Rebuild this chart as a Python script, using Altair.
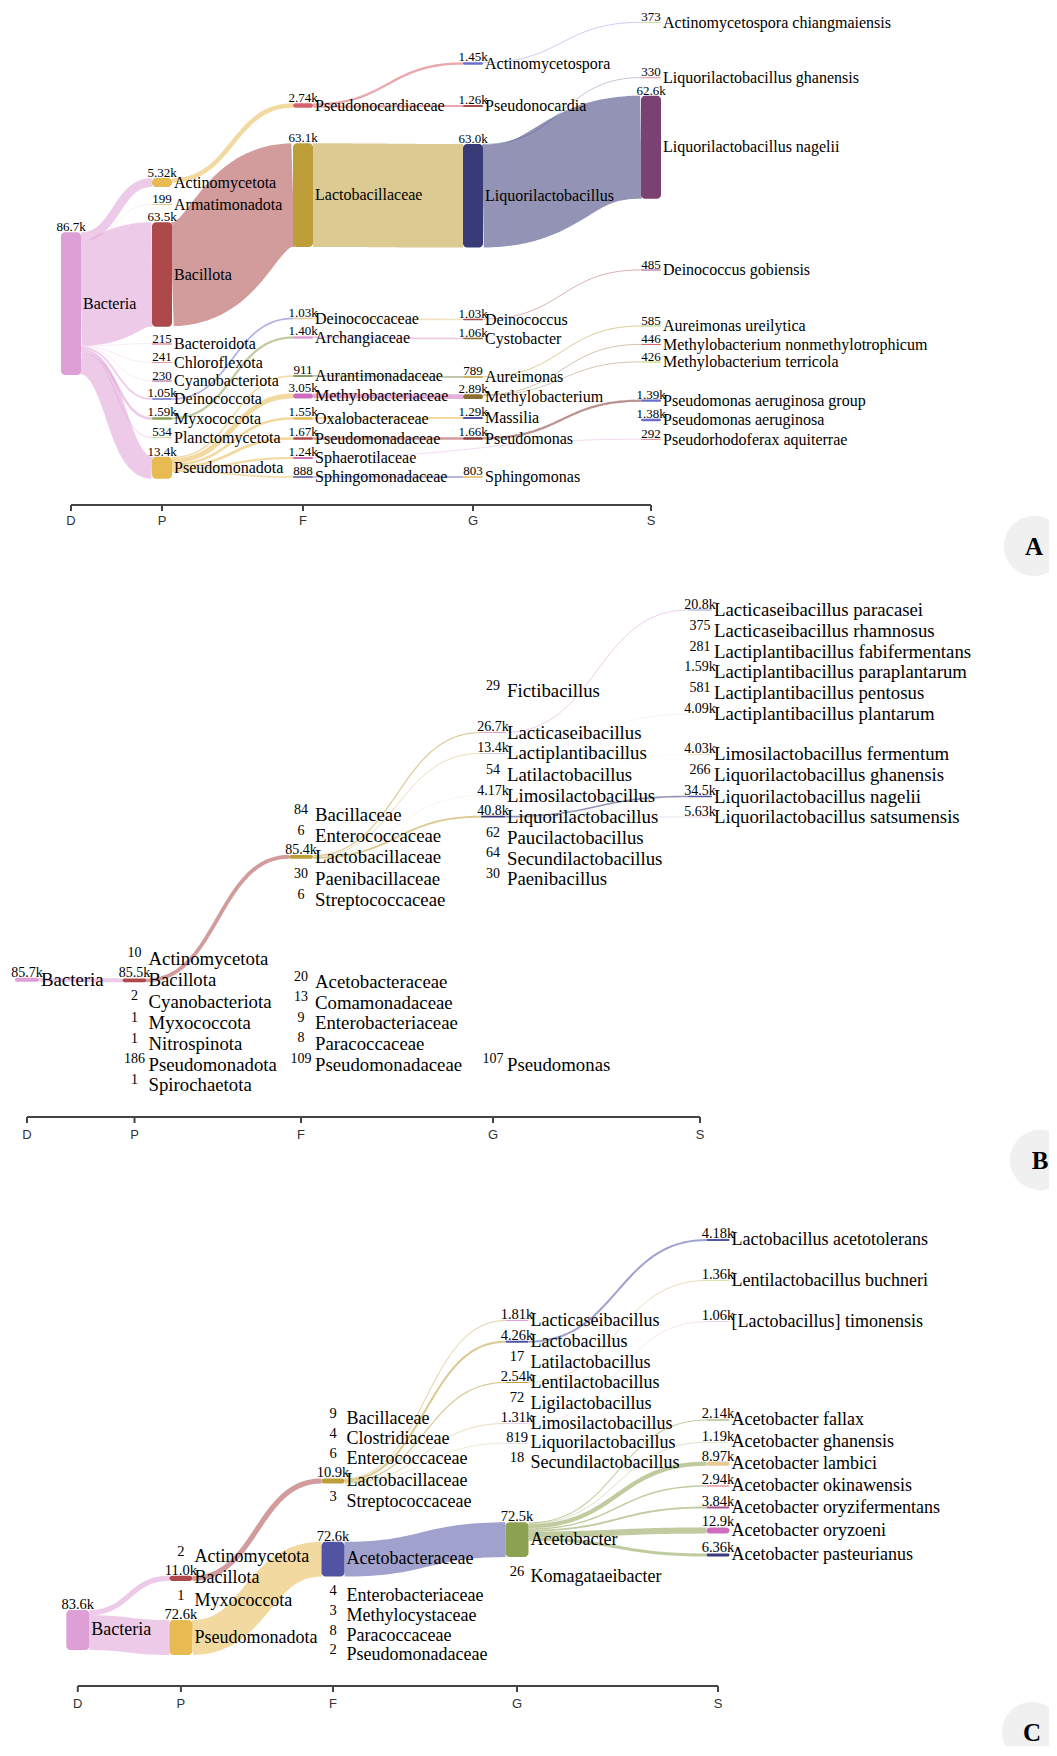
import altair as alt
import pandas as pd

W, H = 1041, 1738
LEVELS = ["D", "P", "F", "G", "S"]

# ------------------------------------------------------------------ data
# nodes: (name, level index, reads, colour)
A_nodes = [
    ("Bacteria", 0, 86700, "#de9ed6"),
    ("Actinomycetota", 1, 5320, "#e7ba52"),
    ("Armatimonadota", 1, 199, "#e7cb94"),
    ("Bacillota", 1, 63500, "#ad494a"),
    ("Bacteroidota", 1, 215, "#d6616b"),
    ("Chloroflexota", 1, 241, "#e7969c"),
    ("Cyanobacteriota", 1, 230, "#a55194"),
    ("Deinococcota", 1, 1050, "#6b6ecf"),
    ("Myxococcota", 1, 1590, "#8ca252"),
    ("Planctomycetota", 1, 534, "#cedb9c"),
    ("Pseudomonadota", 1, 13400, "#e7ba52"),
    ("Pseudonocardiaceae", 2, 2740, "#d6616b"),
    ("Lactobacillaceae", 2, 63100, "#bd9e39"),
    ("Deinococcaceae", 2, 1030, "#e7cb94"),
    ("Archangiaceae", 2, 1400, "#de9ed6"),
    ("Aurantimonadaceae", 2, 911, "#637939"),
    ("Methylobacteriaceae", 2, 3050, "#ce6dbd"),
    ("Oxalobacteraceae", 2, 1550, "#e7ba52"),
    ("Pseudomonadaceae", 2, 1670, "#ad494a"),
    ("Sphaerotilaceae", 2, 1240, "#ce6dbd"),
    ("Sphingomonadaceae", 2, 888, "#5254a3"),
    ("Actinomycetospora", 3, 1450, "#6b6ecf"),
    ("Pseudonocardia", 3, 1260, "#ad494a"),
    ("Liquorilactobacillus", 3, 63000, "#393b79"),
    ("Deinococcus", 3, 1030, "#ad494a"),
    ("Cystobacter", 3, 1060, "#8c6d31"),
    ("Aureimonas", 3, 789, "#bd9e39"),
    ("Methylobacterium", 3, 2890, "#8c6d31"),
    ("Massilia", 3, 1290, "#5254a3"),
    ("Pseudomonas", 3, 1660, "#843c39"),
    ("Sphingomonas", 3, 803, "#e7ba52"),
    ("Actinomycetospora chiangmaiensis", 4, 373, "#cedb9c"),
    ("Liquorilactobacillus ghanensis", 4, 330, "#e7969c"),
    ("Liquorilactobacillus nagelii", 4, 62600, "#7b4173"),
    ("Deinococcus gobiensis", 4, 485, "#a55194"),
    ("Aureimonas ureilytica", 4, 585, "#b5cf6b"),
    ("Methylobacterium nonmethylotrophicum", 4, 446, "#d6616b"),
    ("Methylobacterium terricola", 4, 426, "#b5cf6b"),
    ("Pseudomonas aeruginosa group", 4, 1390, "#6b6ecf"),
    ("Pseudomonas aeruginosa", 4, 1380, "#6b6ecf"),
    ("Pseudorhodoferax aquiterrae", 4, 292, "#e7969c"),
]
A_links = [
    ("Bacteria", "Actinomycetota", 5320), ("Bacteria", "Armatimonadota", 199),
    ("Bacteria", "Bacillota", 63500), ("Bacteria", "Bacteroidota", 215),
    ("Bacteria", "Chloroflexota", 241), ("Bacteria", "Cyanobacteriota", 230),
    ("Bacteria", "Deinococcota", 1050), ("Bacteria", "Myxococcota", 1590),
    ("Bacteria", "Planctomycetota", 534), ("Bacteria", "Pseudomonadota", 13400),
    ("Actinomycetota", "Pseudonocardiaceae", 2740),
    ("Bacillota", "Lactobacillaceae", 63100),
    ("Deinococcota", "Deinococcaceae", 1030),
    ("Myxococcota", "Archangiaceae", 1400),
    ("Pseudomonadota", "Aurantimonadaceae", 911),
    ("Pseudomonadota", "Methylobacteriaceae", 3050),
    ("Pseudomonadota", "Oxalobacteraceae", 1550),
    ("Pseudomonadota", "Pseudomonadaceae", 1670),
    ("Pseudomonadota", "Sphaerotilaceae", 1240),
    ("Pseudomonadota", "Sphingomonadaceae", 888),
    ("Pseudonocardiaceae", "Actinomycetospora", 1450),
    ("Pseudonocardiaceae", "Pseudonocardia", 1260),
    ("Lactobacillaceae", "Liquorilactobacillus", 63000),
    ("Deinococcaceae", "Deinococcus", 1030),
    ("Archangiaceae", "Cystobacter", 1060),
    ("Aurantimonadaceae", "Aureimonas", 789),
    ("Methylobacteriaceae", "Methylobacterium", 2890),
    ("Oxalobacteraceae", "Massilia", 1290),
    ("Pseudomonadaceae", "Pseudomonas", 1660),
    ("Sphingomonadaceae", "Sphingomonas", 803),
    ("Sphaerotilaceae", "Pseudorhodoferax aquiterrae", 292),
    ("Actinomycetospora", "Actinomycetospora chiangmaiensis", 373),
    ("Liquorilactobacillus", "Liquorilactobacillus ghanensis", 330),
    ("Liquorilactobacillus", "Liquorilactobacillus nagelii", 62600),
    ("Deinococcus", "Deinococcus gobiensis", 485),
    ("Aureimonas", "Aureimonas ureilytica", 585),
    ("Methylobacterium", "Methylobacterium nonmethylotrophicum", 446),
    ("Methylobacterium", "Methylobacterium terricola", 426),
    ("Pseudomonas", "Pseudomonas aeruginosa group", 1390),
]

B_nodes = [
    ("Bacteria", 0, 85700, "#de9ed6"),
    ("Actinomycetota", 1, 10, "#e7ba52"),
    ("Bacillota", 1, 85500, "#ad494a"),
    ("Cyanobacteriota", 1, 2, "#a55194"),
    ("Myxococcota", 1, 1, "#8ca252"),
    ("Nitrospinota", 1, 1, "#cedb9c"),
    ("Pseudomonadota", 1, 186, "#e7ba52"),
    ("Spirochaetota", 1, 1, "#e7969c"),
    ("Bacillaceae", 2, 84, "#6b6ecf"),
    ("Enterococcaceae", 2, 6, "#b5cf6b"),
    ("Lactobacillaceae", 2, 85400, "#bd9e39"),
    ("Paenibacillaceae", 2, 30, "#d6616b"),
    ("Streptococcaceae", 2, 6, "#ce6dbd"),
    ("Acetobacteraceae", 2, 20, "#5254a3"),
    ("Comamonadaceae", 2, 13, "#8c6d31"),
    ("Enterobacteriaceae", 2, 9, "#e7cb94"),
    ("Paracoccaceae", 2, 8, "#843c39"),
    ("Pseudomonadaceae", 2, 109, "#ad494a"),
    ("Fictibacillus", 3, 29, "#9c9ede"),
    ("Lacticaseibacillus", 3, 26700, "#de9ed6"),
    ("Lactiplantibacillus", 3, 13400, "#9c9ede"),
    ("Latilactobacillus", 3, 54, "#cedb9c"),
    ("Limosilactobacillus", 3, 4170, "#e7cb94"),
    ("Liquorilactobacillus", 3, 40800, "#393b79"),
    ("Paucilactobacillus", 3, 62, "#e7969c"),
    ("Secundilactobacillus", 3, 64, "#a55194"),
    ("Paenibacillus", 3, 30, "#b5cf6b"),
    ("Pseudomonas", 3, 107, "#843c39"),
    ("Lacticaseibacillus paracasei", 4, 20800, "#9c9ede"),
    ("Lacticaseibacillus rhamnosus", 4, 375, "#ce6dbd"),
    ("Lactiplantibacillus fabifermentans", 4, 281, "#b5cf6b"),
    ("Lactiplantibacillus paraplantarum", 4, 1590, "#cedb9c"),
    ("Lactiplantibacillus pentosus", 4, 581, "#e7ba52"),
    ("Lactiplantibacillus plantarum", 4, 4090, "#e7cb94"),
    ("Limosilactobacillus fermentum", 4, 4030, "#bd9e39"),
    ("Liquorilactobacillus ghanensis", 4, 266, "#e7969c"),
    ("Liquorilactobacillus nagelii", 4, 34500, "#5254a3"),
    ("Liquorilactobacillus satsumensis", 4, 5630, "#de9ed6"),
]
B_links = [
    ("Bacteria", "Bacillota", 85500),
    ("Bacillota", "Lactobacillaceae", 85400),
    ("Lactobacillaceae", "Lacticaseibacillus", 26700),
    ("Lactobacillaceae", "Lactiplantibacillus", 13400),
    ("Lactobacillaceae", "Limosilactobacillus", 4170),
    ("Lactobacillaceae", "Liquorilactobacillus", 40800),
    ("Lacticaseibacillus", "Lacticaseibacillus paracasei", 20800),
    ("Lacticaseibacillus", "Lacticaseibacillus rhamnosus", 375),
    ("Lactiplantibacillus", "Lactiplantibacillus fabifermentans", 281),
    ("Lactiplantibacillus", "Lactiplantibacillus paraplantarum", 1590),
    ("Lactiplantibacillus", "Lactiplantibacillus pentosus", 581),
    ("Lactiplantibacillus", "Lactiplantibacillus plantarum", 4090),
    ("Limosilactobacillus", "Limosilactobacillus fermentum", 4030),
    ("Liquorilactobacillus", "Liquorilactobacillus ghanensis", 266),
    ("Liquorilactobacillus", "Liquorilactobacillus nagelii", 34500),
    ("Liquorilactobacillus", "Liquorilactobacillus satsumensis", 5630),
]

C_nodes = [
    ("Bacteria", 0, 83600, "#de9ed6"),
    ("Actinomycetota", 1, 2, "#e7ba52"),
    ("Bacillota", 1, 11000, "#ad494a"),
    ("Myxococcota", 1, 1, "#8ca252"),
    ("Pseudomonadota", 1, 72600, "#e7ba52"),
    ("Bacillaceae", 2, 9, "#6b6ecf"),
    ("Clostridiaceae", 2, 4, "#cedb9c"),
    ("Enterococcaceae", 2, 6, "#b5cf6b"),
    ("Lactobacillaceae", 2, 10900, "#bd9e39"),
    ("Streptococcaceae", 2, 3, "#ce6dbd"),
    ("Acetobacteraceae", 2, 72600, "#5254a3"),
    ("Enterobacteriaceae", 2, 4, "#e7cb94"),
    ("Methylocystaceae", 2, 3, "#8c6d31"),
    ("Paracoccaceae", 2, 8, "#843c39"),
    ("Pseudomonadaceae", 2, 2, "#ad494a"),
    ("Lacticaseibacillus", 3, 1810, "#de9ed6"),
    ("Lactobacillus", 3, 4260, "#5254a3"),
    ("Latilactobacillus", 3, 17, "#cedb9c"),
    ("Lentilactobacillus", 3, 2540, "#bd9e39"),
    ("Ligilactobacillus", 3, 72, "#e7969c"),
    ("Limosilactobacillus", 3, 1310, "#de9ed6"),
    ("Liquorilactobacillus", 3, 819, "#c6c6e0"),
    ("Secundilactobacillus", 3, 18, "#a55194"),
    ("Acetobacter", 3, 72500, "#8ca252"),
    ("Komagataeibacter", 3, 26, "#e7ba52"),
    ("Lactobacillus acetotolerans", 4, 4180, "#5254a3"),
    ("Lentilactobacillus buchneri", 4, 1360, "#b5cf6b"),
    ("[Lactobacillus] timonensis", 4, 1060, "#de9ed6"),
    ("Acetobacter fallax", 4, 2140, "#8ca252"),
    ("Acetobacter ghanensis", 4, 1190, "#cedb9c"),
    ("Acetobacter lambici", 4, 8970, "#e7cb94"),
    ("Acetobacter okinawensis", 4, 2940, "#e7969c"),
    ("Acetobacter oryzifermentans", 4, 3840, "#a55194"),
    ("Acetobacter oryzoeni", 4, 12900, "#ce6dbd"),
    ("Acetobacter pasteurianus", 4, 6360, "#393b79"),
]
C_links = [
    ("Bacteria", "Actinomycetota", 2), ("Bacteria", "Bacillota", 11000),
    ("Bacteria", "Myxococcota", 1), ("Bacteria", "Pseudomonadota", 72600),
    ("Bacillota", "Lactobacillaceae", 10900),
    ("Pseudomonadota", "Acetobacteraceae", 72600),
    ("Lactobacillaceae", "Lacticaseibacillus", 1810),
    ("Lactobacillaceae", "Lactobacillus", 4260),
    ("Lactobacillaceae", "Latilactobacillus", 17),
    ("Lactobacillaceae", "Lentilactobacillus", 2540),
    ("Lactobacillaceae", "Ligilactobacillus", 72),
    ("Lactobacillaceae", "Limosilactobacillus", 1310),
    ("Lactobacillaceae", "Liquorilactobacillus", 819),
    ("Lactobacillaceae", "Secundilactobacillus", 18),
    ("Acetobacteraceae", "Acetobacter", 72500),
    ("Acetobacteraceae", "Komagataeibacter", 26),
    ("Lactobacillus", "Lactobacillus acetotolerans", 4180),
    ("Lentilactobacillus", "Lentilactobacillus buchneri", 1360),
    ("Limosilactobacillus", "[Lactobacillus] timonensis", 1060),
    ("Acetobacter", "Acetobacter fallax", 2140),
    ("Acetobacter", "Acetobacter ghanensis", 1190),
    ("Acetobacter", "Acetobacter lambici", 8970),
    ("Acetobacter", "Acetobacter okinawensis", 2940),
    ("Acetobacter", "Acetobacter oryzifermentans", 3840),
    ("Acetobacter", "Acetobacter oryzoeni", 12900),
    ("Acetobacter", "Acetobacter pasteurianus", 6360),
]

# ------------------------------------------------------------------ layout (page pixels)
A_y = {
    "Bacteria": 303.6, "Actinomycetota": 182.5, "Armatimonadota": 204.5, "Bacillota": 274.5,
    "Bacteroidota": 344, "Chloroflexota": 362.5, "Cyanobacteriota": 381, "Deinococcota": 399,
    "Myxococcota": 418.5, "Planctomycetota": 437.5, "Pseudomonadota": 467.7,
    "Pseudonocardiaceae": 105.5, "Lactobacillaceae": 195.2, "Deinococcaceae": 318.5,
    "Archangiaceae": 337.5, "Aurantimonadaceae": 376, "Methylobacteriaceae": 396,
    "Oxalobacteraceae": 418.5, "Pseudomonadaceae": 438.5, "Sphaerotilaceae": 458,
    "Sphingomonadaceae": 477,
    "Actinomycetospora": 63.5, "Pseudonocardia": 106, "Liquorilactobacillus": 195.8,
    "Deinococcus": 319.5, "Cystobacter": 338.5, "Aureimonas": 377, "Methylobacterium": 396.7,
    "Massilia": 418, "Pseudomonas": 438.5, "Sphingomonas": 477,
    "Actinomycetospora chiangmaiensis": 22.5, "Liquorilactobacillus ghanensis": 77.8,
    "Liquorilactobacillus nagelii": 147.2, "Deinococcus gobiensis": 270,
    "Aureimonas ureilytica": 326, "Methylobacterium nonmethylotrophicum": 344.5,
    "Methylobacterium terricola": 362, "Pseudomonas aeruginosa group": 400.7,
    "Pseudomonas aeruginosa": 420, "Pseudorhodoferax aquiterrae": 439.5,
}
B_y = {
    "Bacteria": 979.8, "Actinomycetota": 958.5, "Bacillota": 980.3, "Cyanobacteriota": 1001.5,
    "Myxococcota": 1022.5, "Nitrospinota": 1043.5, "Pseudomonadota": 1064.5,
    "Spirochaetota": 1085,
    "Bacillaceae": 814.6, "Enterococcaceae": 835.7, "Lactobacillaceae": 856.8,
    "Paenibacillaceae": 879, "Streptococcaceae": 900, "Acetobacteraceae": 982,
    "Comamonadaceae": 1002.5, "Enterobacteriaceae": 1023, "Paracoccaceae": 1043.5,
    "Pseudomonadaceae": 1064.5,
    "Fictibacillus": 691, "Lacticaseibacillus": 732.5, "Lactiplantibacillus": 753.3,
    "Latilactobacillus": 775, "Limosilactobacillus": 795.7, "Liquorilactobacillus": 816.7,
    "Paucilactobacillus": 838, "Secundilactobacillus": 858.5, "Paenibacillus": 879.3,
    "Pseudomonas": 1064.5,
    "Lacticaseibacillus paracasei": 610, "Lacticaseibacillus rhamnosus": 631,
    "Lactiplantibacillus fabifermentans": 651.7, "Lactiplantibacillus paraplantarum": 672.3,
    "Lactiplantibacillus pentosus": 693.3, "Lactiplantibacillus plantarum": 714,
    "Limosilactobacillus fermentum": 754.3, "Liquorilactobacillus ghanensis": 775,
    "Liquorilactobacillus nagelii": 796.5, "Liquorilactobacillus satsumensis": 817,
}
C_y = {
    "Bacteria": 1630, "Actinomycetota": 1556.7, "Bacillota": 1578.3, "Myxococcota": 1600.7,
    "Pseudomonadota": 1637.5,
    "Bacillaceae": 1419.3, "Clostridiaceae": 1438.8, "Enterococcaceae": 1458.8,
    "Lactobacillaceae": 1481, "Streptococcaceae": 1501.7, "Acetobacteraceae": 1559.2,
    "Enterobacteriaceae": 1596, "Methylocystaceae": 1616, "Paracoccaceae": 1635.7,
    "Pseudomonadaceae": 1655,
    "Lacticaseibacillus": 1320.5, "Lactobacillus": 1341.7, "Latilactobacillus": 1362.5,
    "Lentilactobacillus": 1382.5, "Ligilactobacillus": 1403.5, "Limosilactobacillus": 1423.5,
    "Liquorilactobacillus": 1443.3, "Secundilactobacillus": 1463, "Acetobacter": 1539.7,
    "Komagataeibacter": 1576.7,
    "Lactobacillus acetotolerans": 1240, "Lentilactobacillus buchneri": 1280.5,
    "[Lactobacillus] timonensis": 1321.7, "Acetobacter fallax": 1420,
    "Acetobacter ghanensis": 1442.3, "Acetobacter lambici": 1463.7,
    "Acetobacter okinawensis": 1486, "Acetobacter oryzifermentans": 1507.5,
    "Acetobacter oryzoeni": 1530.5, "Acetobacter pasteurianus": 1555,
}
PANELS = {
    "A": dict(nodes=A_nodes, links=A_links, y=A_y, lx=[71, 162, 303, 473, 651], w=20,
              k=1.645, minh=1.0, fs=16, vfs=13, axis_y=505, lab_dy=16, tag=(1034, 546)),
    "B": dict(nodes=B_nodes, links=B_links, y=B_y, lx=[27, 134.5, 301, 493, 700], w=24,
              k=0.045, minh=0.0, fs=18.8, vfs=14, axis_y=1117, lab_dy=18, tag=(1040, 1160)),
    "C": dict(nodes=C_nodes, links=C_links, y=C_y, lx=[77.8, 180.9, 333, 517, 718], w=23,
              k=0.48, minh=0.0, fs=18, vfs=14.5, axis_y=1686, lab_dy=18, tag=(1032, 1732)),
}


def fmt(v):
    if v >= 1000:
        x = v / 1000
        s = f"{x:.0f}" if x >= 100 else (f"{x:.1f}" if x >= 10 else f"{x:.2f}")
        return s + "k"
    return str(int(v))


node_rows, link_rows, axis_rows, tick_rows, axlab_rows, tag_rows = [], [], [], [], [], []
for pid, P in PANELS.items():
    nd = {}
    for name, lvl, val, col in P["nodes"]:
        h = max(val / 1000 * P["k"], P["minh"])
        cx = P["lx"][lvl]
        cy = P["y"][name]
        nd[name] = dict(panel=pid, name=name, val=val, col=col, cx=cx, cy=cy,
                        x0=cx - P["w"] / 2, x1=cx + P["w"] / 2,
                        y0=cy - h / 2, y1=cy + h / 2,
                        lx=cx + P["w"] / 2 + 2, fs=P["fs"], vfs=P["vfs"],
                        vtext=fmt(val))
    node_rows.extend(nd.values())
    # stack links at sources and targets
    links = [dict(s=s, t=t, v=v, w=v / 1000 * P["k"]) for s, t, v in P["links"]]
    for key, other, end in (("s", "t", "ys"), ("t", "s", "yt")):
        groups = {}
        for L in links:
            groups.setdefault(L[key], []).append(L)
        for n, ls in groups.items():
            ls.sort(key=lambda L: nd[L[other]]["cy"])
            off = nd[n]["y0"]
            for L in ls:
                L[end] = off + L["w"] / 2
                off += L["w"]
    for i, L in enumerate(links):
        x0, x1 = nd[L["s"]]["x1"], nd[L["t"]]["x0"]
        xm = (x0 + x1) / 2
        n = 40
        for j in range(n + 1):
            t = j / n
            a, b, c, d = (1 - t) ** 3, 3 * (1 - t) ** 2 * t, 3 * (1 - t) * t ** 2, t ** 3
            link_rows.append(dict(lid=f"{pid}{i}", t=j,
                                  x=a * x0 + (b + c) * xm + d * x1,
                                  y=(a + b) * L["ys"] + (c + d) * L["yt"],
                                  w=L["w"], col=nd[L["s"]]["col"]))
    ay = P["axis_y"]
    axis_rows.append(dict(x0=P["lx"][0], x1=P["lx"][-1], y=ay))
    for lv, x in zip(LEVELS, P["lx"]):
        tick_rows.append(dict(x=x, y0=ay, y1=ay + 6))
        axlab_rows.append(dict(x=x, y=ay + P["lab_dy"], text=lv))
    tag_rows.append(dict(x=P["tag"][0], y=P["tag"][1], text=pid))

nodes_df = pd.DataFrame(node_rows)
links_df = pd.DataFrame(link_rows)
axis_df = pd.DataFrame(axis_rows)
tick_df = pd.DataFrame(tick_rows)
axlab_df = pd.DataFrame(axlab_rows)
tag_df = pd.DataFrame(tag_rows)

xs = alt.Scale(domain=[8, 8 + W], nice=False, zero=False)
ys = alt.Scale(domain=[8, 8 + H], nice=False, zero=False, reverse=True)
X = lambda f: alt.X(f"{f}:Q", scale=xs, axis=None)
Y = lambda f: alt.Y(f"{f}:Q", scale=ys, axis=None)

tags_bg = alt.Chart(tag_df).mark_circle(size=3632, color="#f0f0f0", opacity=1).encode(
    x=X("x"), y=Y("y"))
tags_txt = alt.Chart(tag_df).mark_text(font="Liberation Serif", fontWeight="bold", fontSize=25,
                                       baseline="middle", align="center", dy=1,
                                       color="black").encode(x=X("x"), y=Y("y"), text="text:N")

link_layer = alt.Chart(links_df).mark_line(strokeCap="butt", strokeJoin="round",
                                           opacity=0.55).encode(
    x=X("x"), y=Y("y"), detail="lid:N", order="t:Q",
    color=alt.Color("col:N", scale=None),
    strokeWidth=alt.StrokeWidth("w:Q", scale=None))

node_layer = alt.Chart(nodes_df).mark_rect(cornerRadius=4).encode(
    x=X("x0"), x2="x1:Q", y=Y("y0"), y2="y1:Q",
    color=alt.Color("col:N", scale=None))

label_layer = alt.Chart(nodes_df).mark_text(align="left", baseline="middle",
                                            font="Liberation Serif", color="black").encode(
    x=X("lx"), y=Y("cy"), text="name:N", size=alt.Size("fs:Q", scale=None))

value_layer = alt.Chart(nodes_df).mark_text(align="center", baseline="alphabetic", dy=-1,
                                            font="Liberation Serif", color="black").encode(
    x=X("cx"), y=Y("y0"), text="vtext:N", size=alt.Size("vfs:Q", scale=None))

axis_layer = alt.Chart(axis_df).mark_rule(strokeWidth=2, color="#444").encode(
    x=X("x0"), x2="x1:Q", y=Y("y"))
tick_layer = alt.Chart(tick_df).mark_rule(strokeWidth=2, color="#444").encode(
    x=X("x"), y=Y("y0"), y2="y1:Q")
axlab_layer = alt.Chart(axlab_df).mark_text(font="Liberation Sans", fontSize=13,
                                            baseline="middle", align="center",
                                            color="#333").encode(
    x=X("x"), y=Y("y"), text="text:N")

chart = alt.layer(
    tags_bg, tags_txt, link_layer, node_layer, label_layer, value_layer,
    axis_layer, tick_layer, axlab_layer,
).properties(
    width=W, height=H, padding=0,
    autosize=alt.AutoSizeParams(type="none"),
    background="white",
).configure_view(stroke=None)

chart.save("out.html", embed_options={"renderer": "svg", "actions": False})
